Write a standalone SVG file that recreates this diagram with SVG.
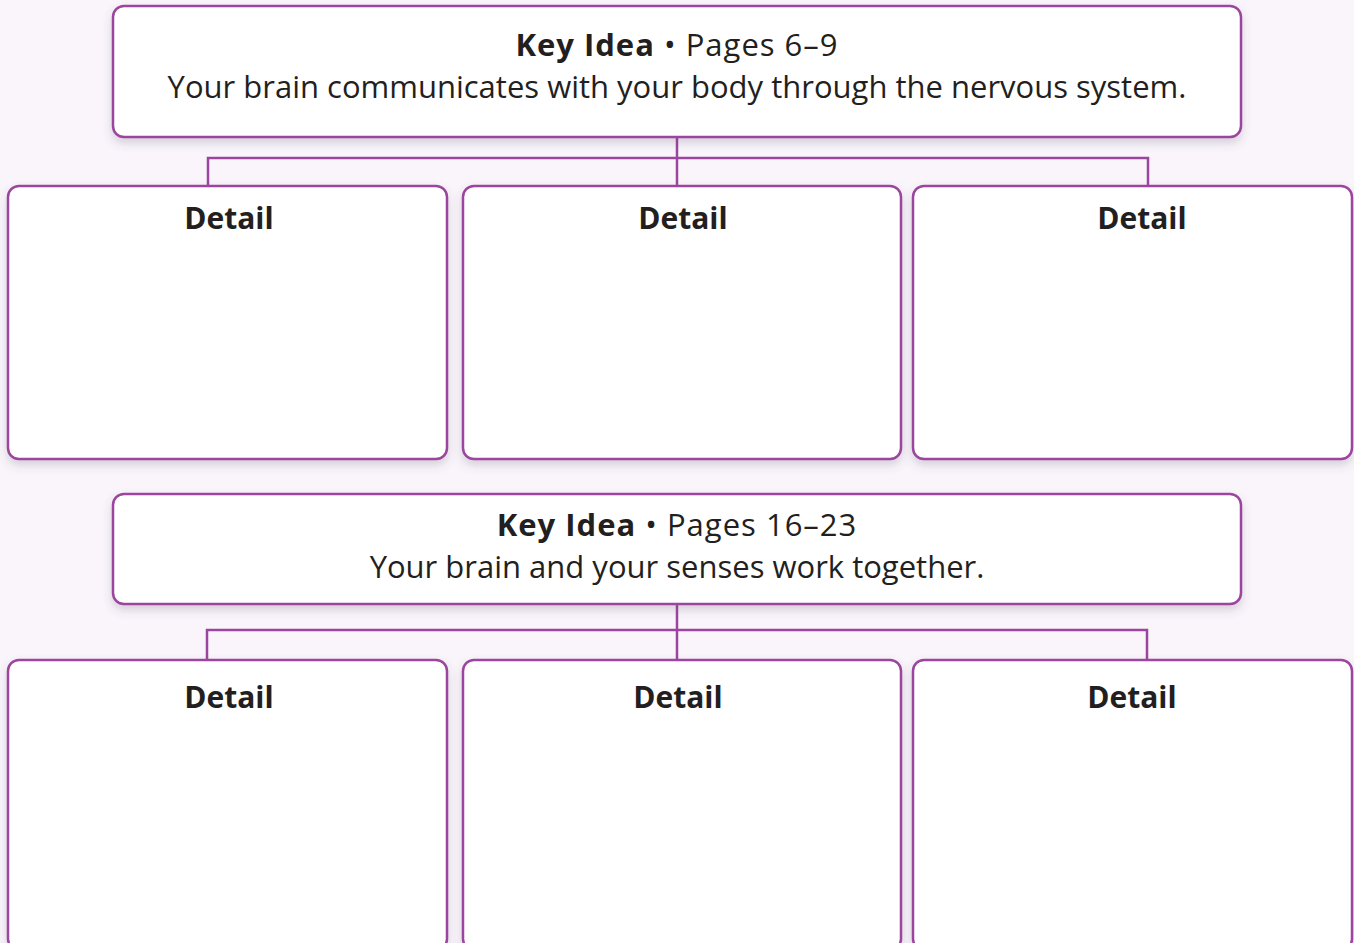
<svg xmlns="http://www.w3.org/2000/svg" width="1354" height="943" viewBox="0 0 1354 943">
<defs>
<filter id="sh" x="-5%" y="-10%" width="110%" height="130%">
<feDropShadow dx="0" dy="5" stdDeviation="5" flood-color="#5a4a66" flood-opacity="0.22"/>
</filter>
<style>
.box{fill:#ffffff;stroke:#9B459F;stroke-width:2.5;filter:url(#sh)}
.conn{fill:none;stroke:#9B459F;stroke-width:2.5}
.t{font-family:"Open Sans","Liberation Sans",sans-serif;fill:#231f20;text-anchor:middle}
.b{font-weight:bold}
.key{font-size:31px}
.head{letter-spacing:1px}
.det{font-size:30px;font-weight:bold}
</style>
</defs>
<rect width="1354" height="943" fill="#F9F5FB"/>
<g id="connectors">
<path class="conn" d="M677,137 V185 M208,185 V158 H1148 V185"/>
<path class="conn" d="M677,604 V660 M207,660 V630 H1147 V660"/>
</g>
<g id="key1">
<rect class="box" x="113" y="6" width="1128" height="131" rx="11"/>
<text class="t key head" x="677" y="56"><tspan class="b">Key Idea</tspan> • Pages 6–9</text>
<text class="t key" x="677" y="98">Your brain communicates with your body through the nervous system.</text>
</g>
<g id="detail1">
<rect class="box" x="8" y="186" width="439" height="273" rx="11"/>
<text class="t det" x="229" y="229">Detail</text>
</g>
<g id="detail2">
<rect class="box" x="463" y="186" width="438" height="273" rx="11"/>
<text class="t det" x="683" y="229">Detail</text>
</g>
<g id="detail3">
<rect class="box" x="913" y="186" width="439" height="273" rx="11"/>
<text class="t det" x="1142" y="229">Detail</text>
</g>
<g id="key2">
<rect class="box" x="113" y="494" width="1128" height="110" rx="11"/>
<text class="t key head" x="677" y="536"><tspan class="b">Key Idea</tspan> • Pages 16–23</text>
<text class="t key" x="677" y="578">Your brain and your senses work together.</text>
</g>
<g id="detail4">
<rect class="box" x="8" y="660" width="439" height="290" rx="11"/>
<text class="t det" x="229" y="708">Detail</text>
</g>
<g id="detail5">
<rect class="box" x="463" y="660" width="438" height="290" rx="11"/>
<text class="t det" x="678" y="708">Detail</text>
</g>
<g id="detail6">
<rect class="box" x="913" y="660" width="439" height="290" rx="11"/>
<text class="t det" x="1132" y="708">Detail</text>
</g>
</svg>
